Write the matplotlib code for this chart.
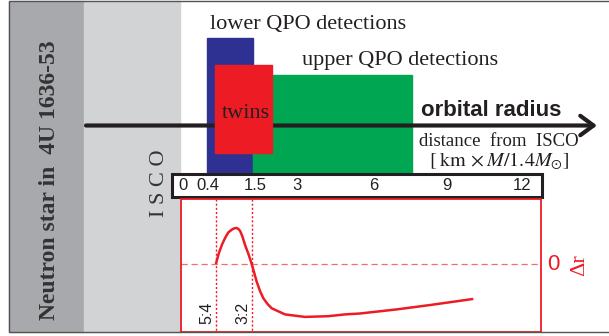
import numpy as np
import matplotlib
matplotlib.use('Agg')
import matplotlib.pyplot as plt
from matplotlib.patches import Rectangle

plt.rcParams['mathtext.fontset'] = 'stix'

# шкала расстояния от ISCO (км) и где стоят подписи
tick_vals = [0, 0.4, 1.5, 3, 6, 9, 12]
tick_labels = ['0', '0.4', '1.5', '3', '6', '9', '12']
tick_px = [183, 207.5, 255, 296.7, 373.3, 446.7, 521.7]

# диапазоны детекций QPO (км от ISCO)
lower_qpo = (0.39, 1.45)
twins = (0.58, 2.1)
upper_qpo = (1.45, 7.6)

# резонансы
res_names = ['5:4', '3:2']
res_r = [0.59, 1.43]

# кривая Δr (условные единицы)
curve_r = [0.594, 0.66, 0.732, 0.81, 0.884, 0.97, 1.02, 1.07, 1.11, 1.154, 1.21, 1.269, 1.35,
           1.424, 1.561, 1.68, 1.799, 1.95, 2.101, 2.579, 3.325, 4.237, 4.891, 5.479, 6.969,
           8.317, 10.064]
curve_dr = [0.0, 0.29, 0.53, 0.73, 0.88, 0.96, 0.99, 1.0, 0.98, 0.92, 0.76, 0.53, 0.27,
            0.0, -0.49, -0.75, -0.95, -1.11, -1.23, -1.40, -1.47, -1.45, -1.40, -1.375, -1.26,
            -1.14, -0.97]


def to_px(r):
    return np.interp(r, tick_vals, tick_px)


def dr_to_px(d):
    return 264 - 36 * np.asarray(d)


fig = plt.figure(figsize=(6.09, 3.36), dpi=100)
ax = fig.add_axes([0, 0, 1, 1])
ax.set_xlim(0, 609)
ax.set_ylim(336, 0)
ax.axis('off')

dark = '#231f20'
red = '#ed1c24'

# фон слева: звезда и ISCO
ax.add_patch(Rectangle((9, 1), 75, 331, color='#a7a9ac', zorder=0))
ax.add_patch(Rectangle((84, 1), 96, 331, color='#d1d3d4', zorder=0))
ax.add_patch(Rectangle((9, 1), 605, 331, fill=False, ec='#555555', lw=1, zorder=5))

ax.text(50, 180, 'Neutron star in  4U 1636-53', rotation=90, ha='center', va='center',
        family='Liberation Serif', weight='bold', fontsize=17, color='#333333')
ax.text(160, 183, 'I S C O', rotation=90, ha='center', va='center',
        family='Liberation Serif', fontsize=16, color='#333333')

# прямоугольники детекций
x0, x1 = to_px(lower_qpo[0]), to_px(lower_qpo[1])
ax.add_patch(Rectangle((x0, 38), x1 - x0, 135, color='#2e3192', zorder=1))
x0, x1 = to_px(upper_qpo[0]), to_px(upper_qpo[1])
ax.add_patch(Rectangle((x0, 75), x1 - x0, 98, color='#00a651', zorder=1))
x0, x1 = to_px(twins[0]), to_px(twins[1])
ax.add_patch(Rectangle((x0, 65), x1 - x0, 88, color=red, zorder=3))

ax.annotate('', xy=(597, 125.5), xytext=(86, 125.5),
            arrowprops=dict(arrowstyle='->,head_length=0.95,head_width=0.7', lw=3,
                            color=dark, shrinkA=0, shrinkB=0), zorder=2)

ax.text(308, 25, 'lower QPO detections', ha='center', va='center',
        family='Liberation Serif', fontsize=16, color=dark, zorder=4)
ax.text(400, 60, 'upper QPO detections', ha='center', va='center',
        family='Liberation Serif', fontsize=16, color=dark, zorder=4)
ax.text(246, 113, 'twins', ha='center', va='center',
        family='Liberation Serif', fontsize=16, color=dark, zorder=4)
ax.text(491, 111, 'orbital radius', ha='center', va='center',
        family='Liberation Sans', weight='bold', fontsize=16, color=dark, zorder=4)
ax.text(499, 142, 'distance  from  ISCO', ha='center', va='center',
        family='Liberation Serif', fontsize=13.5, color=dark, zorder=4)
ax.text(499, 161, r'$[\;\mathrm{km}\,\times M/1.4M_{\odot}]$', ha='center', va='center',
        fontsize=14.5, color=dark, zorder=4)

# шкала
ax.add_patch(Rectangle((172, 173.5), 369.5, 23.5, fc='white', ec=dark, lw=2.2, zorder=4))
for v, lab in zip(tick_vals, tick_labels):
    ax.text(to_px(v), 186, lab, ha='center', va='center', family='Liberation Sans',
            fontsize=12, color=dark, zorder=5)

# нижняя панель Δr
ax.add_patch(Rectangle((180.5, 198.5), 360, 133.5, fill=False, ec=red, lw=1.3, zorder=4))
ax.plot([181, 540], [264, 264], color='#f26d6d', lw=0.9, ls=(0, (5, 3)), zorder=3)
for name, r in zip(res_names, res_r):
    xp = to_px(r)
    ax.plot([xp, xp], [199, 332], color=red, lw=1, ls=(0, (1.5, 1.5)), zorder=3)
    ax.text(xp - 9, 313, name, rotation=90, ha='center', va='center',
            family='Liberation Sans', fontsize=11.5, color=dark, zorder=4)
ax.plot(to_px(curve_r), dr_to_px(curve_dr), color=red, lw=1.8, zorder=4,
        solid_capstyle='butt')
ax.text(553, 264, '0', ha='center', va='center', family='Liberation Sans',
        fontsize=16, color=red)
ax.text(580, 265, r'Δr', rotation=90, ha='center', va='center',
        family='Liberation Serif', fontsize=16, color=red)

fig.savefig('out.png', dpi=100)
